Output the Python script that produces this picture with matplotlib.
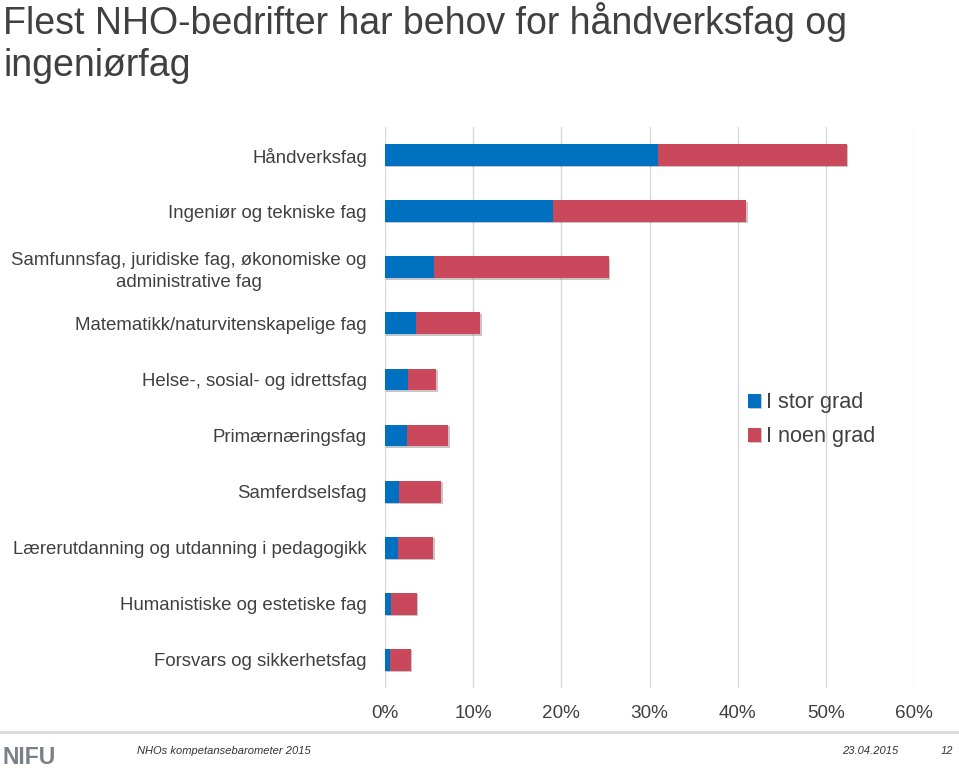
import matplotlib.pyplot as plt
import matplotlib.patheffects as pe
from matplotlib.ticker import FuncFormatter
import numpy as np

plt.rcParams['font.family'] = ['Liberation Sans', 'DejaVu Sans']

categories = [
    'Håndverksfag',
    'Ingeniør og tekniske fag',
    'Samfunnsfag, juridiske fag, økonomiske og\nadministrative fag',
    'Matematikk/naturvitenskapelige fag',
    'Helse-, sosial- og idrettsfag',
    'Primærnæringsfag',
    'Samferdselsfag',
    'Lærerutdanning og utdanning i pedagogikk',
    'Humanistiske og estetiske fag',
    'Forsvars og sikkerhetsfag',
]
stor_grad = [31.0, 19.0, 5.6, 3.5, 2.6, 2.5, 1.6, 1.5, 0.7, 0.6]
noen_grad = [21.4, 22.0, 19.8, 7.3, 3.2, 4.7, 4.8, 4.0, 2.9, 2.3]
series_names = ['I stor grad', 'I noen grad']
xticks = [0, 10, 20, 30, 40, 50, 60]

blue = '#0070C0'
red = '#C9485B'
text_col = '#404040'

fig = plt.figure(figsize=(9.59, 7.7), dpi=100)
ax = fig.add_axes([385 / 959, 1 - 688 / 770, (914 - 385) / 959, (688 - 127) / 770])

y = np.arange(len(categories))
shadow = [pe.SimplePatchShadow(offset=(1, -1), alpha=0.25), pe.Normal()]
b1 = ax.barh(y, stor_grad, height=0.39, color=blue, label=series_names[0], zorder=3)
b2 = ax.barh(y, noen_grad, left=stor_grad, height=0.39, color=red,
             label=series_names[1], zorder=3)
for bar in list(b1) + list(b2):
    bar.set_path_effects(shadow)

ax.set_ylim(len(categories) - 0.5, -0.5)
ax.set_xlim(0, 60)
ax.set_xticks(xticks)
ax.xaxis.set_major_formatter(FuncFormatter(lambda v, p: f'{v:.0f}%'))
ax.set_yticks(y)
ax.set_yticklabels(categories)
ax.tick_params(axis='y', length=0, pad=13, labelsize=13.4, labelcolor=text_col)
ax.tick_params(axis='x', length=0, pad=12, labelsize=13.6, labelcolor=text_col)
for lab in ax.get_yticklabels():
    lab.set_horizontalalignment('right')
    lab.set_multialignment('center')
    lab.set_linespacing(1.35)
ax.grid(axis='x', color='#D9D9D9', linewidth=1, zorder=0)
for s in ax.spines.values():
    s.set_visible(False)

ax.legend(loc='center left', bbox_to_anchor=(748 / 959, 1 - 420 / 770),
          bbox_transform=fig.transFigure, frameon=False, fontsize=15.6,
          handlelength=0.6, handleheight=0.6, handletextpad=0.25,
          labelspacing=0.6, labelcolor=text_col, borderaxespad=0, borderpad=0)

fig.text(3 / 959, 1 - 2 / 770, 'Flest NHO-bedrifter har behov for håndverksfag og\ningeniørfag',
         fontsize=27, color=text_col, va='top', ha='left', linespacing=1.2)

# footer
fig.add_artist(plt.Line2D([0, 1], [1 - 732 / 770] * 2, color='#D9D9D9', linewidth=2))
fig.text(2 / 959, 1 - 764 / 770, 'NIFU', fontsize=16.5, color='#7A8088', va='baseline',
         ha='left', fontweight='bold', family=['Liberation Sans Narrow', 'Liberation Sans'])
fig.text(137 / 959, 1 - 751 / 770, 'NHOs kompetansebarometer 2015', fontsize=8,
         style='italic', color='#333333', va='center', ha='left')
fig.text(898 / 959, 1 - 751 / 770, '23.04.2015', fontsize=8, style='italic',
         color='#333333', va='center', ha='right')
fig.text(953 / 959, 1 - 751 / 770, '12', fontsize=8, style='italic',
         color='#333333', va='center', ha='right')

fig.savefig('out.png', dpi=100)
